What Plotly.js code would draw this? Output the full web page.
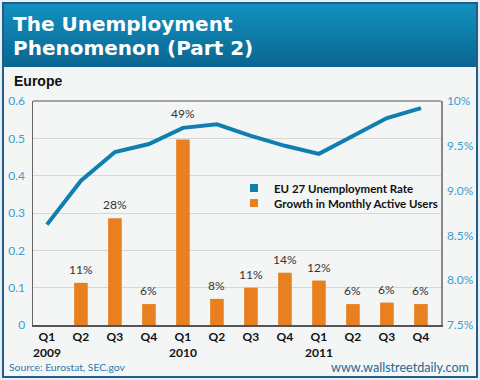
<!DOCTYPE html>
<html>
<head>
<meta charset="utf-8">
<script src="https://cdn.plot.ly/plotly-3.0.1.min.js"></script>
<style>
  html, body { margin:0; padding:0; background:#e8eef2; }
  #wrap { position:relative; width:480px; height:380px; overflow:hidden; }
  #frame { position:absolute; left:2px; top:2px; width:472px; height:372px; border:2px solid #1f5f8b; background:#f4f5f5; }
  #header { position:absolute; left:0; top:0; width:472px; height:63px; background:linear-gradient(#1290c0, #0a6690); }
  #chart { position:absolute; left:0; top:0; width:480px; height:380px; }
</style>
</head>
<body>
<div id="wrap">
  <div id="frame"><div id="header"></div></div>
  <div id="chart"></div>
</div>
<script>
// ---- data ----
var quarterKeys = ['2009Q1','2009Q2','2009Q3','2009Q4','2010Q1','2010Q2','2010Q3','2010Q4','2011Q1','2011Q2','2011Q3','2011Q4'];
var tickLabels = ['Q1<br>2009','Q2','Q3','Q4','Q1<br>2010','Q2','Q3','Q4','Q1<br>2011','Q2','Q3','Q4'];
var unemploymentRate = [8.62, 9.11, 9.43, 9.52, 9.70, 9.74, 9.61, 9.50, 9.41, 9.61, 9.81, 9.92];
var activeUserGrowth = [null, 0.113, 0.286, 0.056, 0.497, 0.07, 0.10, 0.14, 0.119, 0.056, 0.06, 0.056];
var growthLabels = ['', '11%', '28%', '6%', '49%', '8%', '11%', '14%', '12%', '6%', '6%', '6%'];
var leftTicks = [0, 0.1, 0.2, 0.3, 0.4, 0.5, 0.6];
var leftTickText = ['0', '0.1', '0.2', '0.3', '0.4', '0.5', '0.6'];
var rightTicks = [7.5, 8.0, 8.5, 9.0, 9.5, 10];
var rightTickText = ['7.5%', '8.0%', '8.5%', '9.0%', '9.5%', '10%'];
var seriesNames = ['EU 27 Unemployment Rate', 'Growth in Monthly Active Users'];
var titleText = 'The Unemployment<br>Phenomenon (Part 2)';

var BLUE = '#0f7fb0', ORANGE = '#e8801f', TICKBLUE = '#3a9fcc';
var labelFont = {family:'Lato, "Open Sans", sans-serif', size:12, color:'#333'};
var legendFont = {family:'Lato, "Open Sans", sans-serif', size:11.5, color:'#111', weight:'bold'};

var traces = [
  {type:'bar', x:quarterKeys, y:activeUserGrowth, marker:{color:ORANGE}, width:0.4, showlegend:false, hoverinfo:'skip'},
  {type:'scatter', mode:'lines', x:quarterKeys, y:unemploymentRate, yaxis:'y2', line:{color:BLUE, width:4}, showlegend:false, hoverinfo:'skip'},
  {type:'scatter', mode:'markers', x:[null], y:[null], name:seriesNames[0], legend:'legend', marker:{symbol:'square', size:8, color:BLUE}},
  {type:'scatter', mode:'markers', x:[null], y:[null], name:seriesNames[1], legend:'legend2', marker:{symbol:'square', size:8, color:ORANGE}}
];

// the 49% label sits higher so that it clears the line
function labelShift(i) { return growthLabels[i] === '49%' ? 16 : 4; }

var annotations = [];
for (var i = 0; i < quarterKeys.length; i++) {
  if (activeUserGrowth[i] === null) continue;
  annotations.push({x:quarterKeys[i], y:activeUserGrowth[i], xref:'x', yref:'y', text:growthLabels[i],
    showarrow:false, yanchor:'bottom', yshift:labelShift(i), font:labelFont});
}
annotations.push(
  {xref:'paper', yref:'paper', x:(12-33)/408, y:(325-81)/224, xanchor:'left', yanchor:'middle', showarrow:false,
   text:'<b>Europe</b>', font:{family:'Liberation Sans, Arial', size:14, color:'#111'}},
  {xref:'paper', yref:'paper', x:(7-33)/408, y:(325-367)/224, xanchor:'left', yanchor:'middle', showarrow:false,
   text:'Source: Eurostat, SEC.gov', font:{family:'Lato, sans-serif', size:10.3, color:'#2a7ab0'}},
  {xref:'paper', yref:'paper', x:(471-33)/408, y:(325-367)/224, xanchor:'right', yanchor:'middle', showarrow:false,
   text:'www.wallstreetdaily.com', font:{family:'Lato, sans-serif', size:12.6, color:'#1e6a96'}}
);

var layout = {
  width:480, height:380,
  margin:{l:33, r:39, t:101, b:55, pad:0},
  paper_bgcolor:'rgba(0,0,0,0)', plot_bgcolor:'rgba(0,0,0,0)',
  title:{text:titleText, x:13/480, xanchor:'left', xref:'container', y:1-12/380, yref:'container', yanchor:'top',
    font:{family:'DejaVu Sans', size:20, color:'#ffffff', weight:'bold'}},
  showlegend:true,
  legend:{x:(234-33)/408, y:(325-188)/224, xanchor:'left', yanchor:'middle', bgcolor:'rgba(0,0,0,0)',
    font:legendFont, itemwidth:30},
  legend2:{x:(234-33)/408, y:(325-203)/224, xanchor:'left', yanchor:'middle', bgcolor:'rgba(0,0,0,0)',
    font:legendFont, itemwidth:30},
  xaxis:{type:'category', categoryorder:'array', categoryarray:quarterKeys, range:[-0.41, 11.59],
    tickvals:quarterKeys, ticktext:tickLabels, tickfont:{family:'Lato, "Open Sans", sans-serif', size:12, color:'#111', weight:'bold'},
    showgrid:false, showline:true, linecolor:'#555', linewidth:2, ticks:'', zeroline:false, fixedrange:true},
  yaxis:{range:[0, 0.6], tickvals:leftTicks, ticktext:leftTickText, tickfont:{family:'Lato, "Open Sans", sans-serif', size:12, color:TICKBLUE},
    showgrid:true, gridcolor:'#d6d8d8', gridwidth:1, showline:true, linecolor:'#666', linewidth:1.5, zeroline:false, ticks:'', ticklabelstandoff:4},
  yaxis2:{range:[7.5, 10], overlaying:'y', side:'right', tickvals:rightTicks, ticktext:rightTickText,
    tickfont:{family:'Lato, "Open Sans", sans-serif', size:12, color:TICKBLUE},
    showgrid:false, showline:true, linecolor:'#888', linewidth:1.5, zeroline:false, ticks:'', ticklabelstandoff:2},
  annotations:annotations,
  shapes:[{type:'line', xref:'paper', yref:'paper', x0:0, x1:1, y0:1, y1:1, line:{color:'#888', width:1.5}}]
};

// place the two title lines at the reference's baselines
function tightenTitle() {
  var t = document.querySelector('#chart .gtitle');
  if (!t) return;
  var lines = t.querySelectorAll('tspan.line');
  if (lines.length < 2) return;
  t.removeAttribute('transform');
  var baselines = [31, 54.5];
  for (var k = 0; k < lines.length; k++) {
    lines[k].setAttribute('y', baselines[k] || (31 + 23.5 * k));
    lines[k].setAttribute('dy', '0');
  }
}

Plotly.newPlot('chart', traces, layout, {displayModeBar:false, staticPlot:true}).then(tightenTitle);
</script>
</body>
</html>
